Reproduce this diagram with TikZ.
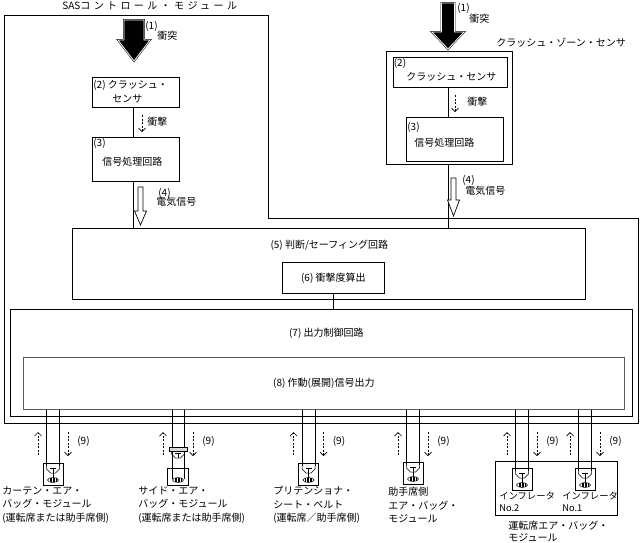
\documentclass[tikz,border=0pt]{standalone}
\usepackage{fontspec}
\setmainfont{Noto Sans CJK JP}
\usetikzlibrary{arrows.meta,calc}
\newcommand\itemno[1]{{\fontsize{10}{10}\selectfont(#1)}}

\begin{document}
\begin{tikzpicture}[x=1pt, y=-1pt, line width=0.7pt,
    >={Straight Barb[length=3.5pt,width=7pt]},
    every node/.style={inner sep=0pt, font=\fontsize{10}{13.5}\selectfont},
    box/.style={draw, rectangle, anchor=north west},
    txt/.style={anchor=north west, align=left},
    sig/.style={dash pattern=on 2pt off 1.5pt},
    impact/.style={fill=black, draw=black, double=white, double distance=0.8pt, line width=0.5pt},
    elec/.style={draw=black, fill=white, line width=0.7pt},
    icon/.style={draw, rectangle, minimum width=20, minimum height=22},
    cup/.pic={
      \draw[line width=0.5pt] (-6.5,0) -- (-6.5,3) -- (-2.5,7) -- (2.5,7) -- (6.5,3) -- (6.5,0);
      \draw[line width=0.5pt] (-3,2) -- (3,2) (0,2) -- (0,7);
    },
    coil/.pic={
      \draw[line width=0.5pt] (0,0) ellipse [x radius=5.5, y radius=2.5];
      \foreach \k in {-3,-1.5,0,1.5,3} \draw[line width=0.4pt] (\k,-1.6) -- (\k,1.6);
    },
    squib/.pic={
      \node[icon] (-box) {};
      \coordinate (-l) at (-6.5,-11);
      \coordinate (-r) at (6.5,-11);
      \draw[line width=0.5pt] (-6.5,-11) -- (-6.5,-8) (6.5,-11) -- (6.5,-8);
      \pic at (0,-8) {cup};
      \draw[line width=0.5pt] (0,-1) -- (0,3.5);
      \pic at (0,6) {coil};
    },
    coilbox/.pic={
      \node[icon, minimum width=21, minimum height=17] (-box) {};
      \coordinate (-l) at (-6,-8.5);
      \coordinate (-r) at (6,-8.5);
      \draw[line width=0.5pt] (-6,-8.5) -- (-6,2) (6,-8.5) -- (6,2);
      \pic at (0,3.5) {coil};
    },
    cap/.pic={
      \draw[line width=0.5pt, fill=black!15] (-9,-2) rectangle (9,2);
      \pic at (0,2) {cup};
    },
    signals/.pic={
      \draw[sig,->] (-15,11) -- (-15,-12);
      \draw[sig,->] (15,-12) -- (15,12);
      \node[anchor=west] (-lab) at (24,-3) {(9)};
    }]

  \useasboundingbox (0,0) rectangle (643,542);

  % SAS control module outline
  \draw (4,15) -- (268,15) -- (268,218) -- (638,218) -- (638,423) -- (4,423) -- cycle;
  \node[anchor=west] (sasT) at (62,6) {SAS{\addfontfeature{LetterSpace=34}コントロール・モジュール}};

  % left sensor chain
  \node[box, minimum width=87, minimum height=30] (CSL) at (92,77) {};
  \node[box, minimum width=87, minimum height=44] (SPL) at (92,137) {};
  \node[txt] (t2L) at (93,80) {\itemno{2} クラッシュ・\\\hspace*{19pt}センサ};
  \node[txt] (t3L) at (93,138) {\itemno{3}\\[5.5pt]\hspace*{9pt}信号処理回路};

  % crash zone sensor
  \node[box, minimum width=126, minimum height=113] (CZS) at (386,51) {};
  \node[anchor=west] (czsT) at (496,43) {クラッシュ・ゾーン・センサ};
  \node[box, minimum width=114, minimum height=30] (CSR) at (393,57) {};
  \node[box, minimum width=97, minimum height=44] (SPR) at (406,117) {};
  \node[txt] (t2R) at (393.5,58) {\itemno{2}\\[0.5pt]\hspace*{12.5pt}クラッシュ・センサ};
  \node[txt] (t3R) at (407,122) {\itemno{3}\\[2.5pt]\hspace*{7pt}信号処理回路};

  % judging and output circuits
  \node[box, minimum width=513, minimum height=71] (JS) at (72,228) {};
  \node (JSt) at ($(JS.north)+(0.5,17)$) {(5) 判断/セーフィング回路};
  \node[box, minimum width=102, minimum height=31] (IMP) at (282,262) {(6) 衝撃度算出};
  \node[box, minimum width=622, minimum height=107] (OC) at (10,309) {};
  \node (OCt) at ($(OC.north)+(5,24)$) {(7) 出力制御回路};
  \node[box, draw=black!65, minimum width=601, minimum height=52] (SO) at (23,357) {(8) 作動(展開)信号出力};

  % connections
  \coordinate (colL) at (133,0);
  \coordinate (colR) at (448,0);
  \draw (CSL.south -| colL) -- (SPL.north -| colL);
  \draw (SPL.south -| colL) -- (JS.north -| colL);
  \draw (CSR.south -| colR) -- (SPR.north -| colR);
  \draw (CZS.south -| colR) -- (JS.north -| colR);
  \draw (IMP.south) -- (IMP.south |- OC.north);

  % impact, shock and electric signal
  \draw[impact] (124,20) -- (144,20) -- (144,40) -- (150,40) -- (134,61) -- (118,40) -- (124,40) -- cycle;
  \node[txt] (lab1L) at (145,21) {(1)\\[-3.5pt]\hspace*{12pt}衝突};
  \draw[impact] (441.5,3) -- (454.5,3) -- (454.5,32) -- (464,32) -- (448,49) -- (432,32) -- (441.5,32) -- cycle;
  \node[txt] (lab1R) at (457,3) {(1)\\[-2.5pt]\hspace*{12pt}衝突};

  \draw[sig,->] (142,115) -- (142,132);
  \node[anchor=west] (shL) at (147,122) {衝撃};
  \draw[sig,->] (455,95) -- (455,112);
  \node[anchor=west] (shR) at (467,102) {衝撃};

  \draw[elec] (138,187) -- (143,187) -- (143,211) -- (146.5,211) -- (140.5,225) -- (134.5,211) -- (138,211) -- cycle;
  \node[txt] (lab4L) at (156,188) {\hspace*{2pt}\itemno{4}\\[-4.5pt]電気信号};
  \draw[elec] (451,178) -- (456,178) -- (456,200) -- (459.5,200) -- (453.5,216) -- (447.5,200) -- (451,200) -- cycle;
  \node[txt] (lab4R) at (462,175) {\itemno{4}\\[-2.5pt]\hspace*{3pt}電気信号};

  % devices
  \pic (curtain) at (53,474) {squib};
  \pic (side) at (178,476.5) {coilbox};
  \pic (pret) at (308.5,474) {squib};
  \pic (pass) at (413,473) {squib};
  \node[box, minimum width=122, minimum height=54] (DRV) at (495,461) {};
  \pic (inflB) at (522,479) {squib};
  \pic (inflA) at (585,479) {squib};

  \foreach \d in {curtain,side,pret,pass,inflB,inflA} {
    \draw (\d-l |- SO.south) -- (\d-l);
    \draw (\d-r |- SO.south) -- (\d-r);
  }
  \pic (sideCap) at (178,449) {cap};

  \foreach \x/\n in {53/sA,178/sB,308.5/sC,413/sD,522/sE,585/sF}
    \pic (\n) at (\x,444) {signals};

  \node[txt] (curT) at (2,486) {カーテン・エア・\\バッグ・モジュール\\(運転席または助手席側)};
  \node[txt] (sideT) at (138,486) {サイド・エア・\\バッグ・モジュール\\(運転席または助手席側)};
  \node[txt] (pretT) at (273,486) {プリテンショナ・\\シート・ベルト\\(運転席／助手席側)};
  \node[txt] (passT) at (388,487) {助手席側\\エア・バッグ・\\モジュール};
  \node[txt, font=\fontsize{9.3}{12}\selectfont] (no2T) at (499,492) {インフレータ\\No.2};
  \node[txt, font=\fontsize{9.3}{12}\selectfont] (no1T) at (562,492) {インフレータ\\No.1};
  \node[txt] (drvT) at (508,521) {運転席エア・バッグ・\\[-1.5pt]モジュール};

\end{tikzpicture}
\end{document}
